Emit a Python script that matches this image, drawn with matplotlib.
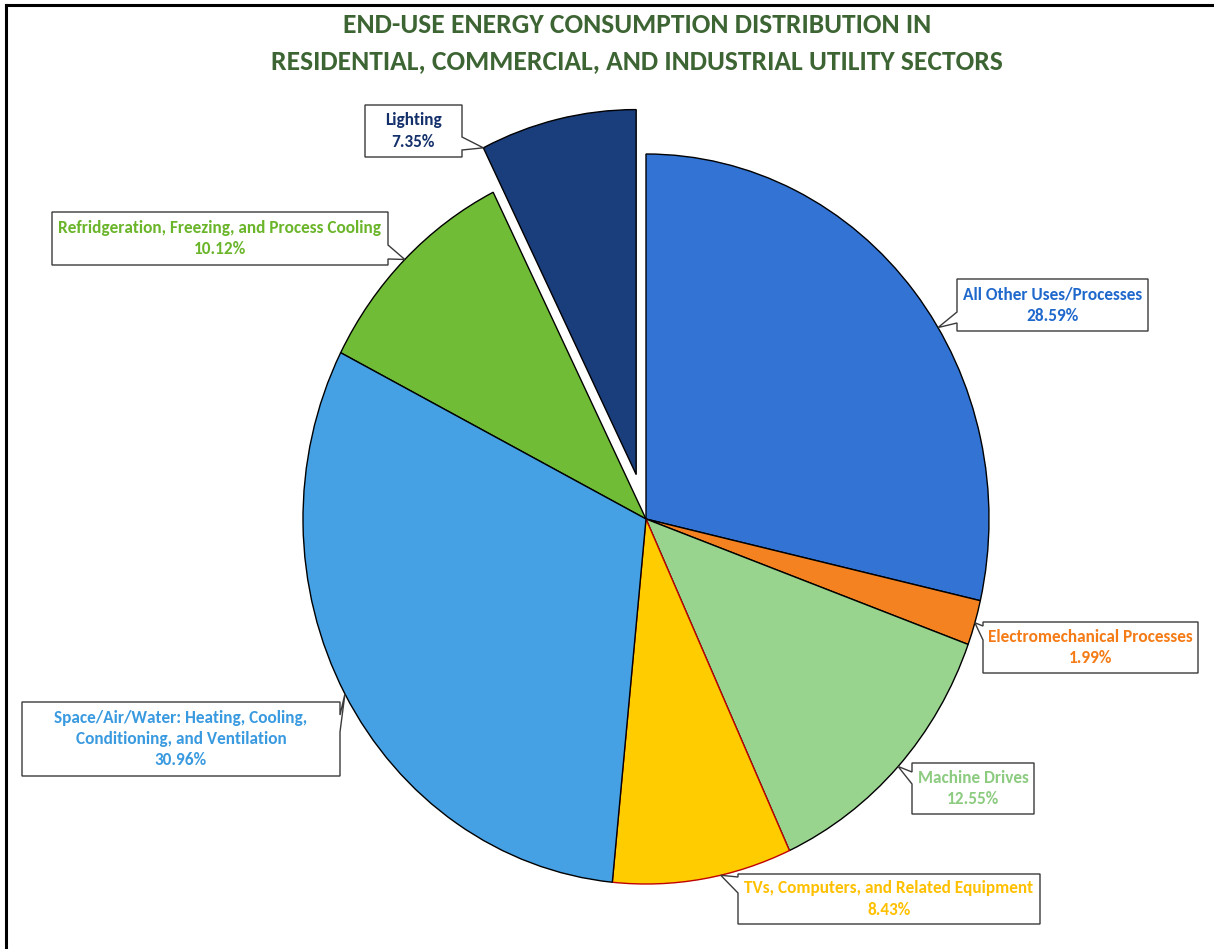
import numpy as np
import matplotlib
matplotlib.use("Agg")
import matplotlib.pyplot as plt
from matplotlib import font_manager
from matplotlib.patches import Polygon
from matplotlib.lines import Line2D

# ---- data -------------------------------------------------------------
categories = [
    "All Other Uses/Processes",
    "Electromechanical Processes",
    "Machine Drives",
    "TVs, Computers, and Related Equipment",
    "Space/Air/Water: Heating, Cooling,\nConditioning, and Ventilation",
    "Refridgeration, Freezing, and Process Cooling",
    "Lighting",
]
shares = [28.59, 1.99, 12.55, 8.43, 30.96, 10.12, 7.35]
slice_colors = ["#3273D3", "#F58220", "#98D48E", "#FFCC00", "#45A1E4", "#71BC36", "#1A3D7B"]
label_colors = ["#1F68CC", "#F47B16", "#8CCB80", "#FFC000", "#3A9AE0", "#6AB52A", "#14306B"]
explode = [0, 0, 0, 0, 0, 0, 0.125]
title = ("END-USE ENERGY CONSUMPTION DISTRIBUTION IN\n"
         "RESIDENTIAL, COMMERCIAL, AND INDUSTRIAL UTILITY SECTORS")

# ---- fonts ------------------------------------------------------------
available = {f.name for f in font_manager.fontManager.ttflist}
family = next((f for f in ["Carlito", "Liberation Sans Narrow", "Open Sans", "Lato"]
               if f in available), "DejaVu Sans")
plt.rcParams["font.family"] = [family, "DejaVu Sans"]

W, H = 1214, 949
fig = plt.figure(figsize=(W / 100, H / 100), dpi=100)
ax = fig.add_axes([0, 0, 1, 1])

# pie centre and radii in pixels (top-left origin)
CX, CY, RX, RY = 646, 519, 343, 365


def px(x, y):
    """Pixel position (top-left origin) -> data coordinates."""
    return (x - CX) / RX, (CY - y) / RY


wedges, _ = ax.pie(shares, colors=slice_colors, startangle=90, counterclock=False,
                   explode=explode,
                   wedgeprops=dict(edgecolor="black", linewidth=1.0))
for w in wedges:
    w.set_zorder(2)
wedges[3].set_edgecolor("#C00000")
wedges[3].set_zorder(2.5)
wedges[4].set_zorder(3)

ax.set_aspect("auto")
ax.set_xlim(-CX / RX, (W - CX) / RX)
ax.set_ylim(-(H - CY) / RY, CY / RY)
ax.axis("off")

# callout boxes: (x0, y0, x1, y1) in pixels, pointer side, pointer base span,
# anchor fraction along the wedge arc
boxes = [
    ((957, 279, 1148, 331), "left", (312, 323), 0.433),
    ((983, 622, 1198, 673), "left", (626, 640), 0.5),
    ((912, 763, 1034, 814), "left", (772, 784), 0.5),
    ((738, 874, 1040, 924), "left", (877, 893), 0.60),
    ((22, 702, 340, 776), "right", (715, 732), 0.5),
    ((52, 212, 388, 265), "right", (245, 259), 0.5),
    ((365, 105, 462, 157), "right", (137, 150), 1.0),
]

for wedge, share, name, color, (rect, side, base, frac) in zip(
        wedges, shares, categories, label_colors, boxes):
    # anchor on the wedge's outer arc (wedge already holds its explode shift)
    th = np.deg2rad(wedge.theta1 + frac * (wedge.theta2 - wedge.theta1))
    cx, cy = wedge.center
    tip = (cx + wedge.r * np.cos(th), cy + wedge.r * np.sin(th))

    x0, y0, x1, y1 = rect
    b0, b1 = base
    if side == "left":
        verts = [px(x0, y0), px(x1, y0), px(x1, y1), px(x0, y1),
                 px(x0, b1), tip, px(x0, b0)]
    else:
        verts = [px(x0, y0), px(x1, y0), px(x1, b0), tip, px(x1, b1),
                 px(x1, y1), px(x0, y1)]
    ax.add_patch(Polygon(verts, closed=True, facecolor="white",
                         edgecolor="#3A3A3A", linewidth=1.0, zorder=5))

    text = f"{name}\n{share:.2f}%"
    tx, ty = px((x0 + x1) / 2, (y0 + y1) / 2)
    ax.text(tx, ty, text, ha="center", va="center", color=color,
            fontsize=12.4, fontweight="bold", linespacing=1.4, zorder=6)

fig.text(0.5246, 1 - 43 / H, title, ha="center", va="center", color="#3D6533",
         fontsize=19.8, fontweight="bold", linespacing=1.6)

# frame lines along the top and left edges
fig.add_artist(Line2D([6 / W, 1], [1 - 4.5 / H, 1 - 4.5 / H], transform=fig.transFigure,
                      color="black", linewidth=2.2))
fig.add_artist(Line2D([6 / W, 6 / W], [0, 1 - 4.5 / H], transform=fig.transFigure,
                      color="black", linewidth=2.2))

fig.savefig("out.png", dpi=100, facecolor="white")
